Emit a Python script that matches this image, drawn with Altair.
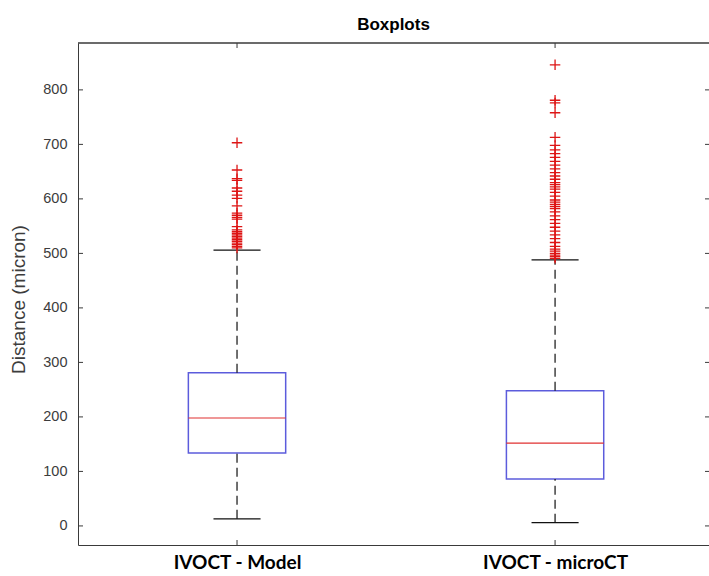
import altair as alt
import pandas as pd

# ---------------- data ----------------
categories = ["IVOCT - Model", "IVOCT - microCT"]
positions = [1, 2]
q1 = [134, 86]
median = [198, 152]
q3 = [281, 248]
whisker_low = [13, 6]
whisker_high = [506, 488]

outliers_model = [703, 653, 637, 634, 620, 614, 607, 601, 587, 574, 570, 566, 563,
                  549, 543, 540, 537, 534, 531, 528, 525, 522, 519, 516, 513, 510]
outliers_microct = [846, 781, 776, 758, 713, 698, 690, 683, 676, 669, 662, 655, 648,
                    642, 636, 630, 626, 622, 618, 612, 605, 598, 594, 590, 586, 582,
                    576, 569, 562, 555, 548, 541, 534, 527, 520, 513, 508, 504, 500,
                    497, 494, 491]

y_ticks = [0, 100, 200, 300, 400, 500, 600, 700, 800]
y_domain = [-35, 886]
x_domain = [0.5, 2.484]

W, H = 631, 502
HALF_BOX = 0.153
HALF_CAP = 0.074

box_df = pd.DataFrame({"cat": categories, "pos": positions, "q1": q1, "med": median,
                       "q3": q3, "lo": whisker_low, "hi": whisker_high})
out_df = pd.DataFrame({
    "pos": [positions[0]] * len(outliers_model) + [positions[1]] * len(outliers_microct),
    "v": outliers_model + outliers_microct,
})
ytick_df = pd.DataFrame({"v": y_ticks})
xtick_df = pd.DataFrame({"pos": positions})

label_expr = "datum.value == {} ? '{}' : '{}'".format(positions[0], categories[0], categories[1])

xscale = alt.Scale(domain=x_domain, nice=False, zero=False)
yscale = alt.Scale(domain=y_domain, nice=False, zero=False)

x_axis = alt.Axis(values=positions, labelExpr=label_expr, ticks=False, grid=False, title=None,
                  labelFont="Lato", labelFontWeight="bold", labelFontSize=19, labelColor="black",
                  labelPadding=8, domainColor="#3a3a3a", domainWidth=1)
y_axis = alt.Axis(values=y_ticks, ticks=False, grid=False, title="Distance (micron)",
                  labelFont="Liberation Sans", labelFontSize=14.5, labelColor="#3c3c3c",
                  labelPadding=11, domainColor="#3a3a3a", domainWidth=1,
                  titleFont="Liberation Sans", titleFontSize=19, titleFontWeight="normal",
                  titleColor="#3c3c3c", titleX=-60, titleY=H / 2 + 5, titleAngle=270,
                  titleAlign="center", titleBaseline="middle")


def X(field):
    return alt.X(field, type="quantitative", scale=xscale, axis=x_axis)


def Y(field):
    return alt.Y(field, type="quantitative", scale=yscale, axis=y_axis)


base = alt.Chart(box_df).transform_calculate(
    xl=f"datum.pos - {HALF_BOX}", xr=f"datum.pos + {HALF_BOX}",
    cl=f"datum.pos - {HALF_CAP}", cr=f"datum.pos + {HALF_CAP}",
)

box = base.mark_rect(fill="white", stroke="#5c5cdc", strokeWidth=1.5).encode(
    x=X("xl"), x2="xr:Q", y=Y("q1"), y2="q3:Q",
)
whisk_up = base.mark_rule(color="#111111", strokeWidth=1.2, strokeDash=[9, 5]).encode(
    x=X("pos"), y=Y("q3"), y2="hi:Q",
)
whisk_lo = base.mark_rule(color="#111111", strokeWidth=1.2, strokeDash=[9, 5]).encode(
    x=X("pos"), y=Y("lo"), y2="q1:Q",
)
cap_hi = base.mark_rule(color="#111111", strokeWidth=1.3).encode(
    x=X("cl"), x2="cr:Q", y=Y("hi"),
)
cap_lo = base.mark_rule(color="#111111", strokeWidth=1.3).encode(
    x=X("cl"), x2="cr:Q", y=Y("lo"),
)
med = base.mark_rule(color="#e03030", strokeWidth=1.2).encode(
    x=X("xl"), x2="xr:Q", y=Y("med"),
)

outl = alt.Chart(out_df).mark_point(
    shape="M-1,0L1,0M0,-1L0,1", size=110, filled=False, color="#dd1515", strokeWidth=1.3, opacity=1
).encode(x=X("pos"), y=Y("v"))

# MATLAB-style inward ticks and box border
left_ticks = alt.Chart(ytick_df).mark_rule(color="#3a3a3a", strokeWidth=1).encode(
    y=Y("v"), x=alt.value(0), x2=alt.value(5))
right_ticks = alt.Chart(ytick_df).mark_rule(color="#3a3a3a", strokeWidth=1).encode(
    y=Y("v"), x=alt.value(W - 4), x2=alt.value(W))
bottom_ticks = alt.Chart(xtick_df).mark_rule(color="#3a3a3a", strokeWidth=1).encode(
    x=X("pos"), y=alt.value(H), y2=alt.value(H - 5))
top_ticks = alt.Chart(xtick_df).mark_rule(color="#3a3a3a", strokeWidth=1).encode(
    x=X("pos"), y=alt.value(0), y2=alt.value(5))
top_border = alt.Chart(xtick_df).mark_rule(color="#3a3a3a", strokeWidth=1.2).encode(
    x=alt.value(0), x2=alt.value(W), y=alt.value(0))

chart = alt.layer(
    box, whisk_up, whisk_lo, cap_hi, cap_lo, med, outl,
    left_ticks, right_ticks, bottom_ticks, top_ticks, top_border,
).properties(
    width=W, height=H,
    title=alt.TitleParams("Boxplots", font="Liberation Sans", fontSize=17, fontWeight="bold",
                          color="black", anchor="middle", offset=8),
    autosize="none",
    background="white",
    padding={"left": 78, "top": 43, "right": 0, "bottom": 31},
).configure_view(stroke=None)

chart.save("out.html", embed_options={"renderer": "svg", "actions": False})
